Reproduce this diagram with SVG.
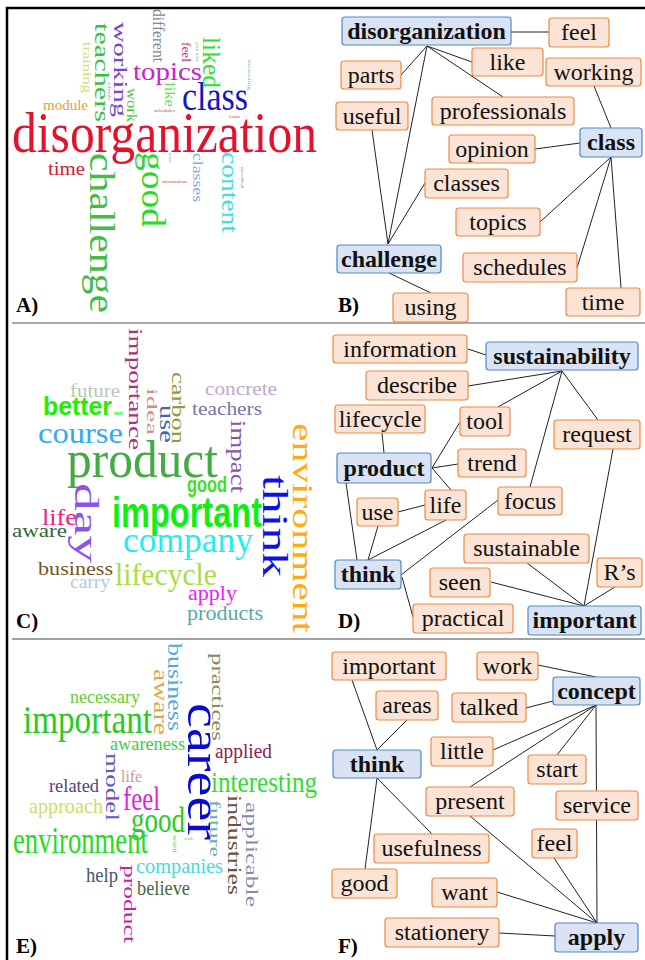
<svg xmlns="http://www.w3.org/2000/svg" width="645" height="960" viewBox="0 0 645 960">
<style>
  .bg { fill: #ffffff; }
  .frame { stroke: #000; stroke-width: 2.5; fill: none; }
  .sep { stroke: #8c8c8c; stroke-width: 1.5; }
  .sep2 { stroke: #444; stroke-width: 1.2; }
  .lbl { font-family: "Liberation Serif", serif; font-weight: bold; font-size: 21px; fill: #000; }
  .w { font-family: "Liberation Serif", serif; }
  .k { font-family: "Liberation Sans Narrow", "Liberation Sans", sans-serif; font-weight: bold; }
  .o rect { fill: #fbe4d5; stroke: #ee8a45; stroke-width: 1.2; }
  .b rect { fill: #dae3f3; stroke: #4f89c8; stroke-width: 1.2; }
  .n text { font-family: "Liberation Serif", serif; font-size: 24px; text-anchor: middle; fill: #111; }
  .b text { font-weight: bold; }
  .conn line { stroke: #222; stroke-width: 1; }
</style>
<rect class="bg" x="0" y="0" width="645" height="960"/>

<!-- outer frame and panel separators -->
<path class="frame" d="M7,960 V8 H645"/>
<line class="sep" x1="12" y1="323" x2="645" y2="323"/>
<line class="sep2" x1="12" y1="639" x2="645" y2="639"/>

<!-- ===== Panel A: word cloud ===== -->
<g id="cloud-a">
  <text class="w" x="12" y="152" font-size="56" fill="#e3132e" textLength="305" lengthAdjust="spacingAndGlyphs">disorganization</text>
  <text class="w" x="182" y="110" font-size="40" fill="#1414c8" textLength="66" lengthAdjust="spacingAndGlyphs">class</text>
  <text class="w" x="133" y="80" font-size="26" fill="#cc22cc" textLength="69" lengthAdjust="spacingAndGlyphs">topics</text>
  <text class="w" x="43" y="110" font-size="15" fill="#e0a040" textLength="45" lengthAdjust="spacingAndGlyphs">module</text>
  <text class="w" x="48" y="175" font-size="19" fill="#cc2233" textLength="37" lengthAdjust="spacingAndGlyphs">time</text>
  <text class="w" x="154" y="112" font-size="4" fill="#cc4444" textLength="21" lengthAdjust="spacingAndGlyphs">schedules</text>
  <text class="w" x="229" y="118" font-size="4" fill="#cc4444" textLength="11" lengthAdjust="spacingAndGlyphs">lesson</text>
  <text class="w" x="162" y="183" font-size="4" fill="#cc4444" textLength="25" lengthAdjust="spacingAndGlyphs">information</text>
  <text class="w" transform="translate(95,23) rotate(90)" font-size="22" fill="#3cc03c" textLength="99" lengthAdjust="spacingAndGlyphs">teachers</text>
  <text class="w" transform="translate(114,22) rotate(90)" font-size="19" fill="#7744cc" textLength="95" lengthAdjust="spacingAndGlyphs">working</text>
  <text class="w" transform="translate(127,88) rotate(90)" font-size="15" fill="#44cc33" textLength="34" lengthAdjust="spacingAndGlyphs">work</text>
  <text class="w" transform="translate(153,9) rotate(90)" font-size="17" fill="#778899" textLength="53" lengthAdjust="spacingAndGlyphs">different</text>
  <text class="w" transform="translate(182,42) rotate(90)" font-size="12" fill="#cc3388" textLength="20" lengthAdjust="spacingAndGlyphs">feel</text>
  <text class="w" transform="translate(196,42) rotate(90)" font-size="4" fill="#88aa88" textLength="20" lengthAdjust="spacingAndGlyphs">your time</text>
  <text class="w" transform="translate(203,37) rotate(90)" font-size="25" fill="#33dd33" textLength="51" lengthAdjust="spacingAndGlyphs">liked</text>
  <text class="w" transform="translate(165,82) rotate(90)" font-size="15" fill="#66dd44" textLength="25" lengthAdjust="spacingAndGlyphs">like</text>
  <text class="w" transform="translate(83,42) rotate(90)" font-size="13" fill="#ccdd88" textLength="51" lengthAdjust="spacingAndGlyphs">training</text>
  <text class="w" transform="translate(248,60) rotate(90)" font-size="5" fill="#55cc55" textLength="30" lengthAdjust="spacingAndGlyphs">measuring</text>
  <text class="w" transform="translate(108,82) rotate(90)" font-size="4" fill="#aa8888" textLength="18" lengthAdjust="spacingAndGlyphs">schools</text>
  <text class="w" transform="translate(193,153) rotate(90)" font-size="15" fill="#88aadd" textLength="49" lengthAdjust="spacingAndGlyphs">classes</text>
  <text class="w" transform="translate(222,152) rotate(90)" font-size="23" fill="#44dddd" textLength="81" lengthAdjust="spacingAndGlyphs">content</text>
  <text class="w" transform="translate(169,153) rotate(90)" font-size="4" fill="#99aaaa" textLength="10" lengthAdjust="spacingAndGlyphs">team</text>
  <text class="w" transform="translate(241,167) rotate(90)" font-size="4" fill="#9988aa" textLength="21" lengthAdjust="spacingAndGlyphs">needed</text>
  <text class="w" transform="translate(90,153) rotate(90)" font-size="36" fill="#44bb44" textLength="160" lengthAdjust="spacingAndGlyphs">challenge</text>
  <text class="w" transform="translate(142,152) rotate(90)" font-size="33" fill="#22dd22" textLength="75" lengthAdjust="spacingAndGlyphs">good</text>
</g>
<text class="lbl" x="16" y="312">A)</text>

<!-- ===== Panel C: word cloud ===== -->
<g id="cloud-c">
  <text class="w" x="70" y="397" font-size="18" fill="#b8c8b0" textLength="50" lengthAdjust="spacingAndGlyphs">future</text>
  <text class="w" x="205" y="395" font-size="19" fill="#c0a8cc" textLength="72" lengthAdjust="spacingAndGlyphs">concrete</text>
  <text class="w" x="192" y="415" font-size="19" fill="#7777aa" textLength="70" lengthAdjust="spacingAndGlyphs">teachers</text>
  <text class="k" x="43" y="415" font-size="26" fill="#22ee00" textLength="69" lengthAdjust="spacingAndGlyphs">better</text>
  <text class="k" x="114" y="415" font-size="6" fill="#22ee00" textLength="9" lengthAdjust="spacingAndGlyphs">ment</text>
  <text class="w" x="38" y="443" font-size="29" fill="#33aaee" textLength="85" lengthAdjust="spacingAndGlyphs">course</text>
  <text class="w" x="67" y="477" font-size="52" fill="#44aa44" textLength="151" lengthAdjust="spacingAndGlyphs">product</text>
  <text class="k" x="187" y="492" font-size="22" fill="#44dd22" textLength="40" lengthAdjust="spacingAndGlyphs">good</text>
  <text class="k" x="112" y="527" font-size="42" fill="#11ee11" textLength="150" lengthAdjust="spacingAndGlyphs">important</text>
  <text class="w" x="42" y="525" font-size="24" fill="#ee2288" textLength="35" lengthAdjust="spacingAndGlyphs">life</text>
  <text class="w" x="12" y="537" font-size="19" fill="#336633" textLength="55" lengthAdjust="spacingAndGlyphs">aware</text>
  <text class="w" x="123" y="552" font-size="36" fill="#22eeee" textLength="130" lengthAdjust="spacingAndGlyphs">company</text>
  <text class="w" x="38" y="575" font-size="19" fill="#775522" textLength="75" lengthAdjust="spacingAndGlyphs">business</text>
  <text class="w" x="115" y="585" font-size="32" fill="#aadd44" textLength="102" lengthAdjust="spacingAndGlyphs">lifecycle</text>
  <text class="w" x="70" y="588" font-size="18" fill="#aaccee" textLength="40" lengthAdjust="spacingAndGlyphs">carry</text>
  <text class="w" x="188" y="600" font-size="22" fill="#ee22ee" textLength="49" lengthAdjust="spacingAndGlyphs">apply</text>
  <text class="w" x="187" y="620" font-size="20" fill="#55aaaa" textLength="76" lengthAdjust="spacingAndGlyphs">products</text>
  <text class="w" transform="translate(129,328) rotate(90)" font-size="19" fill="#aa3377" textLength="122" lengthAdjust="spacingAndGlyphs">importance</text>
  <text class="w" transform="translate(147,388) rotate(90)" font-size="15" fill="#d09080" textLength="47" lengthAdjust="spacingAndGlyphs">idea</text>
  <text class="w" transform="translate(172,372) rotate(90)" font-size="19" fill="#999933" textLength="72" lengthAdjust="spacingAndGlyphs">carbon</text>
  <text class="w" transform="translate(160,405) rotate(90)" font-size="20" fill="#4466aa" textLength="38" lengthAdjust="spacingAndGlyphs">use</text>
  <text class="w" transform="translate(231,420) rotate(90)" font-size="20" fill="#8855aa" textLength="73" lengthAdjust="spacingAndGlyphs">impact</text>
  <text class="w" transform="translate(263,475) rotate(90)" font-size="35" fill="#1111dd" textLength="102" lengthAdjust="spacingAndGlyphs">think</text>
  <text class="w" transform="translate(293,423) rotate(90)" font-size="29" fill="#ffaa11" textLength="210" lengthAdjust="spacingAndGlyphs">environment</text>
  <text class="w" transform="translate(75,483) rotate(90)" font-size="33" fill="#8855ee" textLength="80" lengthAdjust="spacingAndGlyphs">day</text>
</g>
<text class="lbl" x="16" y="628">C)</text>

<!-- ===== Panel E: word cloud ===== -->
<g id="cloud-e">
  <text class="w" x="70" y="703" font-size="19" fill="#66cc33" textLength="70" lengthAdjust="spacingAndGlyphs">necessary</text>
  <text class="w" x="23" y="733" font-size="40" fill="#22cc22" textLength="129" lengthAdjust="spacingAndGlyphs">important</text>
  <text class="w" x="110" y="750" font-size="19" fill="#44cc44" textLength="75" lengthAdjust="spacingAndGlyphs">awareness</text>
  <text class="w" x="215" y="758" font-size="20" fill="#882255" textLength="57" lengthAdjust="spacingAndGlyphs">applied</text>
  <text class="w" x="121" y="782" font-size="16" fill="#cc9999" textLength="21" lengthAdjust="spacingAndGlyphs">life</text>
  <text class="w" x="49" y="792" font-size="19" fill="#554477" textLength="50" lengthAdjust="spacingAndGlyphs">related</text>
  <text class="w" x="211" y="792" font-size="30" fill="#33dd33" textLength="106" lengthAdjust="spacingAndGlyphs">interesting</text>
  <text class="w" x="123" y="810" font-size="34" fill="#dd22dd" textLength="37" lengthAdjust="spacingAndGlyphs">feel</text>
  <text class="w" x="29" y="813" font-size="21" fill="#ccdd66" textLength="74" lengthAdjust="spacingAndGlyphs">approach</text>
  <text class="w" x="131" y="832" font-size="36" fill="#22cc22" textLength="54" lengthAdjust="spacingAndGlyphs">good</text>
  <text class="w" x="13" y="853" font-size="38" fill="#22dd22" textLength="135" lengthAdjust="spacingAndGlyphs">environment</text>
  <text class="w" x="184" y="840" font-size="5" fill="#66cc66" textLength="9" lengthAdjust="spacingAndGlyphs">work</text>
  <text class="w" x="136" y="873" font-size="22" fill="#44dddd" textLength="87" lengthAdjust="spacingAndGlyphs">companies</text>
  <text class="w" x="86" y="882" font-size="20" fill="#445577" textLength="32" lengthAdjust="spacingAndGlyphs">help</text>
  <text class="w" x="137" y="895" font-size="20" fill="#446644" textLength="53" lengthAdjust="spacingAndGlyphs">believe</text>
  <text class="w" transform="translate(168,643) rotate(90)" font-size="20" fill="#55aadd" textLength="88" lengthAdjust="spacingAndGlyphs">business</text>
  <text class="w" transform="translate(154,669) rotate(90)" font-size="22" fill="#ddaa44" textLength="66" lengthAdjust="spacingAndGlyphs">aware</text>
  <text class="w" transform="translate(212,653) rotate(90)" font-size="17" fill="#888855" textLength="88" lengthAdjust="spacingAndGlyphs">practices</text>
  <text class="w" transform="translate(188,703) rotate(90)" font-size="48" fill="#0a0acc" textLength="137" lengthAdjust="spacingAndGlyphs">career</text>
  <text class="w" transform="translate(106,753) rotate(90)" font-size="18" fill="#6655bb" textLength="68" lengthAdjust="spacingAndGlyphs">model</text>
  <text class="w" transform="translate(210,800) rotate(90)" font-size="15" fill="#66aaaa" textLength="57" lengthAdjust="spacingAndGlyphs">future</text>
  <text class="w" transform="translate(228,795) rotate(90)" font-size="18" fill="#665544" textLength="100" lengthAdjust="spacingAndGlyphs">industries</text>
  <text class="w" transform="translate(246,802) rotate(90)" font-size="16" fill="#8888aa" textLength="105" lengthAdjust="spacingAndGlyphs">applicable</text>
  <text class="w" transform="translate(173,835) rotate(90)" font-size="6" fill="#66cc66" textLength="18" lengthAdjust="spacingAndGlyphs">want</text>
  <text class="w" transform="translate(124,865) rotate(90)" font-size="17" fill="#cc2299" textLength="78" lengthAdjust="spacingAndGlyphs">product</text>
</g>
<text class="lbl" x="16" y="953">E)</text>

<!-- ===== connectors ===== -->
<g id="connectors" class="conn">
  <!-- B -->
  <line x1="511" y1="32" x2="549" y2="32"/>
  <line x1="427" y1="46" x2="472" y2="62"/>
  <line x1="427" y1="46" x2="401" y2="75"/>
  <line x1="427" y1="46" x2="503" y2="97"/>
  <line x1="427" y1="46" x2="388" y2="244"/>
  <line x1="372" y1="130" x2="388" y2="244"/>
  <line x1="425" y1="183" x2="388" y2="244"/>
  <line x1="389" y1="273" x2="431" y2="293"/>
  <line x1="594" y1="86" x2="611" y2="128"/>
  <line x1="535" y1="149" x2="580" y2="143"/>
  <line x1="611" y1="157" x2="540" y2="222"/>
  <line x1="611" y1="157" x2="577" y2="268"/>
  <line x1="611" y1="157" x2="621" y2="288"/>
  <!-- D -->
  <line x1="468" y1="349" x2="486" y2="355"/>
  <line x1="562" y1="371" x2="468" y2="386"/>
  <line x1="562" y1="371" x2="498" y2="407"/>
  <line x1="562" y1="371" x2="530" y2="487"/>
  <line x1="562" y1="371" x2="598" y2="420"/>
  <line x1="382" y1="433" x2="384" y2="453"/>
  <line x1="432" y1="468" x2="460" y2="422"/>
  <line x1="432" y1="468" x2="458" y2="464"/>
  <line x1="432" y1="468" x2="451" y2="490"/>
  <line x1="346" y1="483" x2="357" y2="560"/>
  <line x1="398" y1="512" x2="425" y2="505"/>
  <line x1="378" y1="526" x2="368" y2="560"/>
  <line x1="446" y1="520" x2="368" y2="560"/>
  <line x1="498" y1="500" x2="401" y2="575"/>
  <line x1="402" y1="577" x2="413" y2="617"/>
  <line x1="613" y1="449" x2="584" y2="606"/>
  <line x1="527" y1="563" x2="584" y2="606"/>
  <line x1="491" y1="582" x2="584" y2="606"/>
  <line x1="615" y1="587" x2="584" y2="606"/>
  <!-- F -->
  <line x1="352" y1="680" x2="377" y2="750"/>
  <line x1="407" y1="720" x2="377" y2="750"/>
  <line x1="538" y1="665" x2="596" y2="677"/>
  <line x1="526" y1="708" x2="553" y2="701"/>
  <line x1="596" y1="705" x2="493" y2="750"/>
  <line x1="596" y1="705" x2="470" y2="787"/>
  <line x1="596" y1="705" x2="557" y2="755"/>
  <line x1="596" y1="705" x2="597" y2="923"/>
  <line x1="377" y1="778" x2="365" y2="869"/>
  <line x1="377" y1="778" x2="432" y2="834"/>
  <line x1="470" y1="816" x2="597" y2="923"/>
  <line x1="554" y1="858" x2="597" y2="923"/>
  <line x1="497" y1="892" x2="597" y2="923"/>
  <line x1="499" y1="933" x2="555" y2="936"/>
</g>

<!-- ===== Panel B nodes ===== -->
<g id="b-disorganization" class="n b"><rect x="342" y="17" width="169" height="28" rx="3"/><text x="426.5" y="39">disorganization</text></g>
<g id="b-feel" class="n o"><rect x="549" y="18" width="60" height="29" rx="3"/><text x="579" y="40">feel</text></g>
<g id="b-like" class="n o"><rect x="472" y="48" width="71" height="28" rx="3"/><text x="507.5" y="70">like</text></g>
<g id="b-working" class="n o"><rect x="546" y="58" width="95" height="28" rx="3"/><text x="593.5" y="80">working</text></g>
<g id="b-parts" class="n o"><rect x="341" y="61" width="60" height="28" rx="3"/><text x="371" y="83">parts</text></g>
<g id="b-useful" class="n o"><rect x="336" y="102" width="72" height="28" rx="3"/><text x="372" y="124">useful</text></g>
<g id="b-professionals" class="n o"><rect x="432" y="97" width="142" height="28" rx="3"/><text x="503" y="119">professionals</text></g>
<g id="b-opinion" class="n o"><rect x="449" y="135" width="86" height="28" rx="3"/><text x="492" y="157">opinion</text></g>
<g id="b-class" class="n b"><rect x="580" y="128" width="62" height="29" rx="3"/><text x="611" y="150">class</text></g>
<g id="b-classes" class="n o"><rect x="425" y="169" width="83" height="29" rx="3"/><text x="466.5" y="191">classes</text></g>
<g id="b-topics" class="n o"><rect x="456" y="208" width="84" height="28" rx="3"/><text x="498" y="230">topics</text></g>
<g id="b-schedules" class="n o"><rect x="463" y="253" width="114" height="29" rx="3"/><text x="520" y="275">schedules</text></g>
<g id="b-challenge" class="n b"><rect x="337" y="245" width="104" height="28" rx="3"/><text x="389" y="267">challenge</text></g>
<g id="b-time" class="n o"><rect x="566" y="288" width="74" height="28" rx="3"/><text x="603" y="310">time</text></g>
<g id="b-using" class="n o"><rect x="393" y="293" width="75" height="29" rx="3"/><text x="430.5" y="315">using</text></g>
<text class="lbl" x="338" y="312">B)</text>

<!-- ===== Panel D nodes ===== -->
<g id="d-information" class="n o"><rect x="333" y="335" width="134" height="28" rx="3"/><text x="400" y="357">information</text></g>
<g id="d-sustainability" class="n b"><rect x="486" y="342" width="152" height="28" rx="3"/><text x="562" y="364">sustainability</text></g>
<g id="d-describe" class="n o"><rect x="366" y="371" width="102" height="29" rx="3"/><text x="417" y="393">describe</text></g>
<g id="d-lifecycle" class="n o"><rect x="335" y="405" width="90" height="28" rx="3"/><text x="380" y="427">lifecycle</text></g>
<g id="d-tool" class="n o"><rect x="460" y="407" width="50" height="29" rx="3"/><text x="485" y="429">tool</text></g>
<g id="d-request" class="n o"><rect x="554" y="420" width="86" height="29" rx="3"/><text x="597" y="442">request</text></g>
<g id="d-product" class="n b"><rect x="337" y="453" width="94" height="30" rx="3"/><text x="384" y="476">product</text></g>
<g id="d-trend" class="n o"><rect x="458" y="449" width="68" height="28" rx="3"/><text x="492" y="471">trend</text></g>
<g id="d-life" class="n o"><rect x="425" y="490" width="41" height="30" rx="3"/><text x="445.5" y="513">life</text></g>
<g id="d-focus" class="n o"><rect x="498" y="487" width="64" height="28" rx="3"/><text x="530" y="509">focus</text></g>
<g id="d-use" class="n o"><rect x="357" y="498" width="41" height="28" rx="3"/><text x="377.5" y="520">use</text></g>
<g id="d-sustainable" class="n o"><rect x="464" y="534" width="125" height="29" rx="3"/><text x="526.5" y="556">sustainable</text></g>
<g id="d-rs" class="n o"><rect x="597" y="558" width="45" height="29" rx="3"/><text x="619.5" y="580">R’s</text></g>
<g id="d-think" class="n b"><rect x="335" y="560" width="66" height="29" rx="3"/><text x="368" y="582">think</text></g>
<g id="d-seen" class="n o"><rect x="430" y="568" width="60" height="29" rx="3"/><text x="460" y="590">seen</text></g>
<g id="d-practical" class="n o"><rect x="413" y="604" width="100" height="29" rx="3"/><text x="463" y="626">practical</text></g>
<g id="d-important" class="n b"><rect x="528" y="606" width="113" height="29" rx="3"/><text x="584.5" y="628">important</text></g>
<text class="lbl" x="338" y="628">D)</text>

<!-- ===== Panel F nodes ===== -->
<g id="f-important" class="n o"><rect x="332" y="652" width="114" height="28" rx="3"/><text x="389" y="674">important</text></g>
<g id="f-work" class="n o"><rect x="477" y="652" width="61" height="28" rx="3"/><text x="507.5" y="674">work</text></g>
<g id="f-concept" class="n b"><rect x="553" y="677" width="87" height="28" rx="3"/><text x="596.5" y="699">concept</text></g>
<g id="f-areas" class="n o"><rect x="376" y="691" width="62" height="29" rx="3"/><text x="407" y="713">areas</text></g>
<g id="f-talked" class="n o"><rect x="452" y="693" width="74" height="29" rx="3"/><text x="489" y="715">talked</text></g>
<g id="f-think" class="n b"><rect x="333" y="750" width="88" height="28" rx="3"/><text x="377" y="772">think</text></g>
<g id="f-little" class="n o"><rect x="431" y="737" width="62" height="29" rx="3"/><text x="462" y="759">little</text></g>
<g id="f-start" class="n o"><rect x="528" y="755" width="58" height="29" rx="3"/><text x="557" y="777">start</text></g>
<g id="f-present" class="n o"><rect x="426" y="787" width="88" height="29" rx="3"/><text x="470" y="809">present</text></g>
<g id="f-service" class="n o"><rect x="556" y="791" width="82" height="29" rx="3"/><text x="597" y="813">service</text></g>
<g id="f-feel" class="n o"><rect x="532" y="829" width="45" height="29" rx="3"/><text x="554.5" y="851">feel</text></g>
<g id="f-usefulness" class="n o"><rect x="374" y="834" width="115" height="29" rx="3"/><text x="431.5" y="856">usefulness</text></g>
<g id="f-good" class="n o"><rect x="332" y="869" width="65" height="29" rx="3"/><text x="364.5" y="891">good</text></g>
<g id="f-want" class="n o"><rect x="432" y="878" width="65" height="29" rx="3"/><text x="464.5" y="900">want</text></g>
<g id="f-stationery" class="n o"><rect x="385" y="918" width="114" height="29" rx="3"/><text x="442" y="940">stationery</text></g>
<g id="f-apply" class="n b"><rect x="555" y="923" width="83" height="29" rx="3"/><text x="596.5" y="945">apply</text></g>
<text class="lbl" x="338" y="953">F)</text>
</svg>
